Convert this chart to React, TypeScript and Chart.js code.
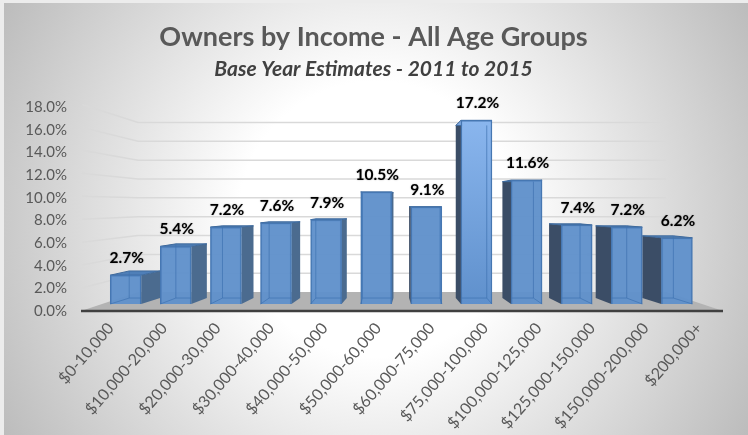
import React, { useEffect, useRef } from "react";
import { Chart, registerables } from "chart.js";

Chart.register(...registerables);

const categories = ["$0-10,000","$10,000-20,000","$20,000-30,000","$30,000-40,000","$40,000-50,000","$50,000-60,000","$60,000-75,000","$75,000-100,000","$100,000-125,000","$125,000-150,000","$150,000-200,000","$200,000+"];
const ownersPct = [2.7,5.4,7.2,7.6,7.9,10.5,9.1,17.2,11.6,7.4,7.2,6.2];
const gridValues = [0,2,4,6,8,10,12,14,16,18];
const FONT = "Lato, 'Open Sans', sans-serif";

const VANISH_X = 401;
const DEPTH = 0.069;

function rgba(hex: string, a: number) {
  const n = parseInt(hex.slice(1), 16);
  return `rgba(${(n >> 16) & 255},${(n >> 8) & 255},${n & 255},${a})`;
}

const backdrop = {
  id: "backdrop",
  beforeDraw(c: any) {
    const { ctx, width, height } = c;
    ctx.save();
    ctx.fillStyle = "#ececec";
    ctx.fillRect(0, 0, width, height);
    const x0 = 4, y0 = 3, w = width - x0, h = height - y0;
    const cx = x0 + w / 2, cy = y0 + h / 2;
    const r = Math.hypot(w, h) / 2;
    const g = ctx.createRadialGradient(cx, cy, r * 0.32, cx, cy, r);
    g.addColorStop(0, "#ffffff");
    g.addColorStop(1, "#bcbcbc");
    ctx.fillStyle = g;
    ctx.fillRect(x0, y0, w, h);
    ctx.restore();
  },
  beforeDatasetsDraw(c: any) {
    const { ctx, scales } = c;
    const L = 81, R = 723;
    const backL = 138, backR = 666;
    const wall = scales.yw, back = scales.ygrid;
    ctx.save();
    // floor
    ctx.fillStyle = "#b3b3b3";
    ctx.beginPath();
    ctx.moveTo(L, wall.getPixelForValue(0));
    ctx.lineTo(backL, back.getPixelForValue(0));
    ctx.lineTo(backR, back.getPixelForValue(0));
    ctx.lineTo(R, wall.getPixelForValue(0));
    ctx.closePath();
    ctx.fill();
    // walls
    ctx.strokeStyle = "#d9d9d9";
    ctx.lineWidth = 1.5;
    gridValues.slice(1).forEach((v) => {
      ctx.beginPath();
      ctx.moveTo(L + 1, wall.getPixelForValue(v));
      ctx.lineTo(backL, back.getPixelForValue(v));
      ctx.lineTo(backR, back.getPixelForValue(v));
      ctx.stroke();
    });
    // axis line
    ctx.strokeStyle = "#404040";
    ctx.lineWidth = 2.5;
    ctx.beginPath();
    ctx.moveTo(L, wall.getPixelForValue(0));
    ctx.lineTo(R, wall.getPixelForValue(0));
    ctx.stroke();
    // bar depth
    const meta = c.getDatasetMeta(0);
    const yb = scales.ybar;
    meta.data.forEach((bar: any, i: number) => {
      const v = ownersPct[i];
      const hw = bar.width / 2;
      const l = bar.x - hw, r = bar.x + hw;
      const dx = (VANISH_X - bar.x) * DEPTH;
      const top = bar.y, base = bar.base;
      const bTop = yb.getPixelForValue(v), bBase = yb.getPixelForValue(0);
      const side = dx >= 0 ? r : l;
      ctx.lineWidth = 1;
      ctx.strokeStyle = "#3f6a9c";
      // side
      ctx.fillStyle = dx >= 0 ? "#4b6b8f" : "#3b4d66";
      ctx.beginPath();
      ctx.moveTo(side, top);
      ctx.lineTo(side + dx, bTop);
      ctx.lineTo(side + dx, bBase);
      ctx.lineTo(side, base);
      ctx.closePath();
      ctx.fill();
      // top
      ctx.fillStyle = i === 7 ? "#7fa9e0" : "#4f7fb8";
      ctx.beginPath();
      ctx.moveTo(l, top);
      ctx.lineTo(l + dx, bTop);
      ctx.lineTo(r + dx, bTop);
      ctx.lineTo(r, top);
      ctx.closePath();
      ctx.fill();
      ctx.stroke();
    });
    ctx.restore();
  },
  afterDatasetsDraw(c: any) {
    const { ctx, scales } = c;
    const meta = c.getDatasetMeta(0);
    const yb = scales.ybar;
    ctx.save();
    meta.data.forEach((bar: any, i: number) => {
      const v = ownersPct[i];
      const hw = bar.width / 2;
      const l = bar.x - hw, r = bar.x + hw;
      const dx = (VANISH_X - bar.x) * DEPTH;
      const bTop = yb.getPixelForValue(v), bBase = yb.getPixelForValue(0);
      // inner edges seen through the translucent front
      ctx.strokeStyle = rgba("#3f72b0", 0.7);
      ctx.lineWidth = 1;
      ctx.beginPath();
      const inner = dx >= 0 ? l + dx : r + dx;
      ctx.moveTo(inner, bTop);
      ctx.lineTo(inner, bBase);
      ctx.lineTo(dx >= 0 ? l : r, bar.base);
      ctx.moveTo(inner, bBase);
      ctx.lineTo(dx >= 0 ? r : l, bBase);
      ctx.stroke();
      // data label
      ctx.fillStyle = "#000";
      ctx.font = `bold 15.5px ${FONT}`;
      ctx.textAlign = "center";
      ctx.textBaseline = "middle";
      ctx.shadowColor = "rgba(0,0,0,0.35)";
      ctx.shadowBlur = 1.5;
      ctx.fillText(`${v.toFixed(1)}%`, bar.x + 1, bar.y - 17);
      ctx.shadowBlur = 0;
    });
    ctx.restore();
  },
};

export default function App() {
  const ref = useRef<HTMLCanvasElement>(null);
  useEffect(() => {
    document.body.style.margin = "0";
    const ctx = ref.current!.getContext("2d")!;
    const chart = new Chart(ctx, {
      type: "bar",
      data: {
        labels: categories,
        datasets: [{
          label: "Owners",
          data: ownersPct.map((y, x) => ({ x, y })),
          xAxisID: "xb",
          yAxisID: "yf",
          barThickness: 31,
          borderWidth: 1.5,
          borderColor: "#4677b2",
          backgroundColor: (cx: any) => {
            const { chart: ch, dataIndex } = cx;
            if (!ch.chartArea) return "#5f90c8";
            if (dataIndex !== 7) return "rgba(96,145,203,0.96)";
            const g = ch.ctx.createLinearGradient(0, 120, 0, 304);
            g.addColorStop(0, "#8ab6ee");
            g.addColorStop(1, "#5f90cc");
            return g;
          },
        }],
      },
      options: {
        animation: false,
        responsive: false,
        layout: { padding: { right: 25, left: 24, top: 0, bottom: 0 } },
        plugins: {
          legend: { display: false },
          tooltip: { enabled: false },
          title: {
            display: true,
            text: "Owners by Income - All Age Groups",
            color: "#595959",
            font: { family: FONT, size: 27, weight: "bold" },
            padding: { top: 21, bottom: 3 },
          },
          subtitle: {
            display: true,
            text: "Base Year Estimates - 2011 to 2015",
            color: "#404040",
            font: { family: FONT, size: 21, weight: "bold", style: "italic" },
            padding: { top: 0, bottom: 25.8 },
          },
        },
        scales: {
          x: {
            type: "category",
            position: "bottom",
            grid: { display: false, drawTicks: false },
            border: { display: false },
            afterFit: (s: any) => { s.height = 124; },
            ticks: {
              autoSkip: false, maxRotation: 49, minRotation: 49, align: "end",
              padding: 8, labelOffset: 3, color: "#595959",
              font: { family: FONT, size: 16 },
            },
          },
          y: {
            min: 0, max: 18, position: "left",
            grid: { display: false, drawTicks: false },
            border: { display: false },
            afterFit: (s: any) => { s.width = 57; },
            ticks: {
              stepSize: 2, padding: 14, color: "#595959",
              font: { family: FONT, size: 15 },
              callback: (v: any) => `${Number(v).toFixed(1)}%`,
            },
          },
          xb: { type: "linear", axis: "x", display: false, offset: false, min: -0.892, max: 11.92 },
          yf: { type: "linear", axis: "y", display: false, min: -0.654, max: 18.41 },
          ybar: { type: "linear", axis: "y", display: false, min: -1.29, max: 19.0 },
          ygrid: { type: "linear", axis: "y", display: false, min: -2.01, max: 19.6 },
          yw: { type: "linear", axis: "y", display: false, min: 0, max: 17.74 },
        },
      } as any,
      plugins: [backdrop],
    });
    return () => chart.destroy();
  }, []);
  return <canvas ref={ref} width={748} height={435} style={{ display: "block" }} />;
}
